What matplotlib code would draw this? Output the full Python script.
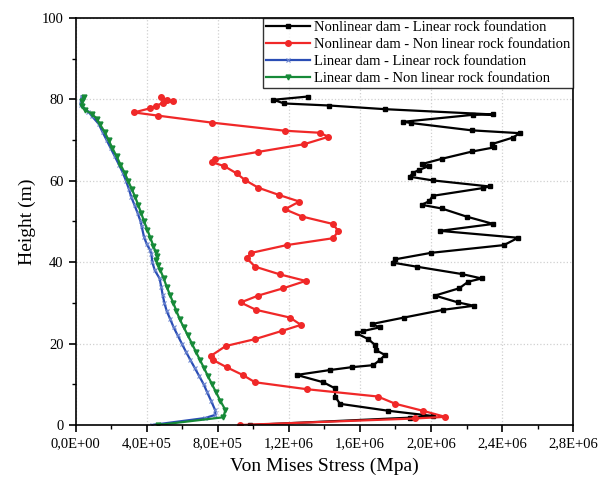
import numpy as np
import matplotlib
matplotlib.use("Agg")
import matplotlib.pyplot as plt
from matplotlib.ticker import FuncFormatter, MultipleLocator

plt.rcParams['font.family'] = ['Liberation Serif', 'DejaVu Serif']

# ---- data (stress in units of 1E6, height in m) ----
labels = ["Nonlinear dam - Linear rock foundation",
          "Nonlinear dam - Non linear rock foundation",
          "Linear dam - Linear rock foundation",
          "Linear dam - Non linear rock foundation"]

# Nonlinear dam - Linear rock foundation
nl_lin_h = [80.7, 79.9, 79.0, 78.5, 77.6, 76.3, 76.2, 74.5, 74.2, 72.4,
            71.7, 70.6, 69.0, 68.2, 67.2, 65.4, 64.1, 63.6, 62.7, 61.9,
            61.0, 60.1, 58.6, 58.2, 56.3, 55.0, 54.1, 53.2, 51.2, 49.4,
            47.7, 46.0, 44.2, 42.3, 40.7, 39.9, 38.9, 37.1, 36.0, 35.2,
            33.6, 31.8, 30.1, 29.3, 28.3, 26.4, 24.8, 24.0, 23.1, 22.5,
            21.1, 19.7, 18.4, 17.2, 16.0, 14.7, 14.2, 13.5, 12.3, 10.5,
            9.0, 7.0, 5.2, 3.5, 2.2, 1.8, 0.0]
nl_lin_s = [1.306, 1.112, 1.174, 1.427, 1.74, 2.35, 2.234, 1.844, 1.887, 2.228,
            2.5, 2.459, 2.341, 2.354, 2.232, 2.06, 1.947, 1.988, 1.934, 1.897,
            1.881, 2.009, 2.33, 2.29, 2.009, 1.99, 1.947, 2.06, 2.2, 2.35,
            2.05, 2.49, 2.41, 2.0, 1.797, 1.784, 1.919, 2.172, 2.285, 2.209,
            2.159, 2.022, 2.153, 2.241, 2.069, 1.848, 1.666, 1.713, 1.619, 1.582,
            1.647, 1.684, 1.69, 1.741, 1.713, 1.675, 1.553, 1.431, 1.244, 1.394,
            1.46, 1.46, 1.488, 1.759, 2.012, 1.881, 0.98]

# Nonlinear dam - Non linear rock foundation
nl_nl_h = [80.7, 79.9, 79.5, 79.2, 78.4, 77.8, 76.8, 76.0, 74.3, 72.3,
           71.8, 70.8, 69.0, 67.1, 65.3, 64.6, 63.6, 61.8, 60.2, 58.3,
           56.5, 54.9, 53.0, 51.2, 49.4, 47.7, 45.9, 44.2, 42.3, 41.0,
           38.9, 37.0, 35.4, 33.6, 31.8, 30.1, 28.3, 26.4, 24.6, 23.1,
           21.1, 19.4, 17.0, 16.0, 14.2, 12.3, 10.5, 8.8, 7.0, 5.2,
           3.5, 2.0, 1.6, 0.0]
nl_nl_s = [0.479, 0.513, 0.55, 0.494, 0.453, 0.419, 0.329, 0.466, 0.766, 1.178,
           1.375, 1.422, 1.287, 1.028, 0.785, 0.766, 0.837, 0.907, 0.953, 1.028,
           1.146, 1.259, 1.178, 1.276, 1.447, 1.478, 1.45, 1.188, 0.99, 0.963,
           1.01, 1.15, 1.295, 1.169, 1.028, 0.929, 1.015, 1.206, 1.268, 1.16,
           1.01, 0.845, 0.762, 0.772, 0.85, 0.94, 1.01, 1.3, 1.7, 1.8,
           1.953, 2.08, 1.91, 0.926]

# Linear dam - Linear rock foundation
lin_lin_h = [0, 1.7, 2.5, 3.7, 6, 8, 10, 12, 14, 16,
             18, 20, 22, 24, 26, 28, 30, 32, 34, 36,
             38, 40, 42, 43, 44.5, 46.3, 48.8, 50, 52, 54,
             56, 58, 60, 62, 64, 66, 68, 70, 72, 74,
             76, 77, 78.6, 79.5, 80.7]
lin_lin_s = [0.43, 0.728, 0.787, 0.785, 0.762, 0.741, 0.721, 0.696, 0.671, 0.646,
             0.621, 0.598, 0.575, 0.552, 0.533, 0.513, 0.5, 0.49, 0.482, 0.473,
             0.446, 0.432, 0.427, 0.419, 0.4, 0.385, 0.372, 0.366, 0.35, 0.332,
             0.314, 0.3, 0.284, 0.266, 0.244, 0.221, 0.198, 0.175, 0.152, 0.13,
             0.09, 0.072, 0.029, 0.03, 0.035]

# Linear dam - Non linear rock foundation
lin_nl_h = [0, 1.9, 3.7, 6, 8, 10, 12, 14, 16, 18,
            20, 22, 24, 26, 28, 30, 32, 34, 36, 38,
            39.3, 40.6, 41.4, 42.6, 44, 46, 48, 50, 52, 54,
            56, 58, 60, 62, 64, 66, 68, 70, 72, 74,
            75.3, 76.5, 77.4, 78.5, 79.5, 80.7]
lin_nl_s = [0.464, 0.832, 0.843, 0.814, 0.791, 0.768, 0.745, 0.723, 0.7, 0.677,
            0.655, 0.632, 0.609, 0.586, 0.568, 0.55, 0.531, 0.513, 0.496, 0.478,
            0.465, 0.453, 0.46, 0.45, 0.438, 0.421, 0.404, 0.386, 0.37, 0.353,
            0.336, 0.316, 0.296, 0.276, 0.253, 0.231, 0.208, 0.186, 0.164, 0.136,
            0.119, 0.09, 0.053, 0.035, 0.035, 0.045]

fig = plt.figure(figsize=(6.07, 4.80), dpi=100)
ax = fig.add_axes([0.1244, 0.1146, 0.82, 0.8479])

ax.plot(np.array(nl_lin_s) * 1e6, nl_lin_h, color='black', lw=1.6,
        marker='s', ms=3.5, label=labels[0])
ax.plot(np.array(nl_nl_s) * 1e6, nl_nl_h, color='#f02828', lw=1.6,
        marker='o', ms=4, label=labels[1])
ax.plot(np.array(lin_lin_s) * 1e6, lin_lin_h, color='#2a4db5', lw=1.6,
        marker='x', ms=3, mew=0.8, mec='#6d86d0', label=labels[2])
ax.plot(np.array(lin_nl_s) * 1e6, lin_nl_h, color='#168a38', lw=1.6,
        marker='v', ms=3.5, label=labels[3])

ax.set_xlim(0, 2.8e6)
ax.set_ylim(0, 100)
ax.xaxis.set_major_locator(MultipleLocator(4e5))
ax.xaxis.set_minor_locator(MultipleLocator(2e5))
ax.yaxis.set_major_locator(MultipleLocator(20))
ax.yaxis.set_minor_locator(MultipleLocator(10))
ax.xaxis.set_major_formatter(FuncFormatter(lambda v, p: f"{v:.1E}".replace('.', ',')))

ax.tick_params(which='major', direction='out', length=5, width=1.2, labelsize=10.5)
ax.tick_params(which='minor', direction='out', length=3, width=1.0)
ax.tick_params(top=False, right=False)
for s in ax.spines.values():
    s.set_linewidth(1.2)

ax.grid(True, which='major', color='#d0d0d0', linestyle=':', linewidth=0.9)
ax.set_axisbelow(True)

ax.set_xlabel('Von Mises Stress (Mpa)', fontsize=14, labelpad=6)
ax.set_ylabel('Height (m)', fontsize=14, labelpad=4)

leg = ax.legend(loc='upper right', fontsize=10.5, frameon=True, fancybox=False,
                edgecolor='black', borderpad=0.2, labelspacing=0.25,
                handlelength=3.0, handletextpad=0.3, borderaxespad=0.0)
leg.get_frame().set_linewidth(1.0)

fig.savefig('out.png', dpi=100)
